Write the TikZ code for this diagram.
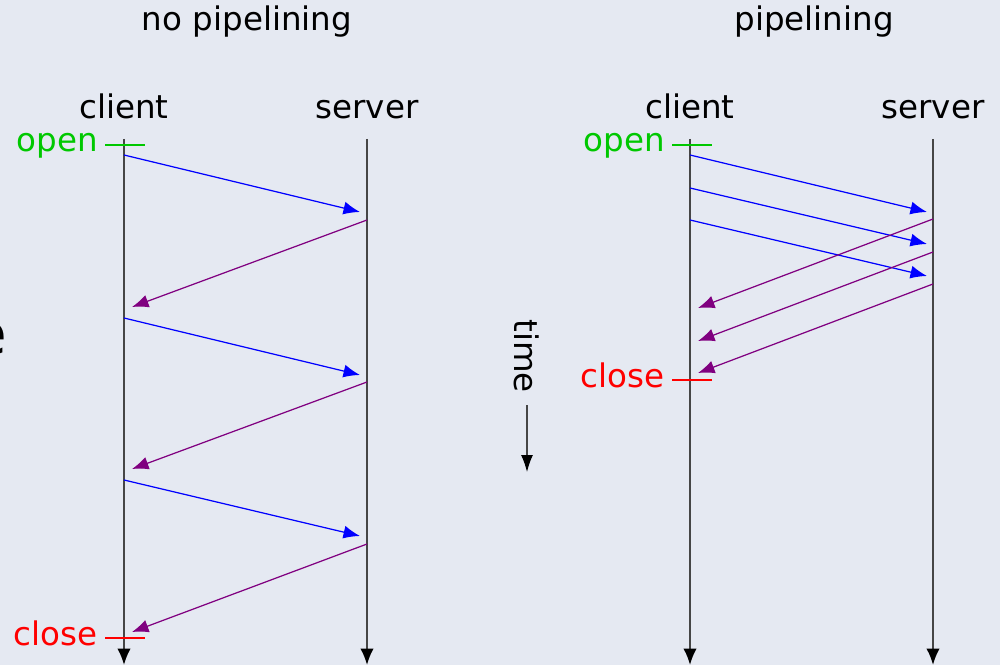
\documentclass[tikz,border=0pt]{standalone}
\usepackage{fontspec}
\setmainfont{DejaVu Sans}
\usetikzlibrary{arrows.meta}
\definecolor{bgcol}{RGB}{229,233,242}
\definecolor{opengreen}{RGB}{0,200,0}
\definecolor{msgpurple}{RGB}{128,0,128}
\definecolor{linegray}{RGB}{70,70,70}
\tikzset{
	txt/.style={inner sep=0pt,font=\fontsize{18.5}{21}\selectfont},
	lifeline/.style={draw=linegray,line width=1.1pt,-{Latex[length=3.3mm,width=2.7mm,black]}},
	tick/.style={line width=1.2pt},
	request/.style={blue,line width=0.7pt,-{Latex[length=3.3mm,width=2.6mm]}},
	reply/.style={msgpurple,line width=0.7pt,-{Latex[length=3.3mm,width=2.6mm]}},
}
\begin{document}
\begin{tikzpicture}[x=0.02cm,y=-0.02cm]
	\fill[bgcol] (0,0) rectangle (1000,665);
	\useasboundingbox (0,0) rectangle (1000,665);
	% cut off letter at the left edge
	\node[inner sep=0pt,font=\fontsize{33}{36}\selectfont] (cut) at (-11,339) {e};
	%
	% no pipelining
	\node[txt,anchor=base] (titleA) at (247,31) {no pipelining};
	\node[txt,anchor=base] (clientA) at (124,119) {client};
	\node[txt,anchor=base] (serverA) at (367,119) {server};
	\coordinate (cA) at (124,139);
	\coordinate (cAend) at (124,665);
	\coordinate (sA) at (367,139);
	\coordinate (sAend) at (367,665);
	\draw[lifeline] (cA) -- (cAend);
	\draw[lifeline] (sA) -- (sAend);
	\coordinate (openA1) at (105,145);
	\coordinate (openA2) at (145,145);
	\draw[tick,opengreen] (openA1) -- (openA2);
	\node[txt,anchor=base east,text=opengreen] (openA) at (98,152) {open};
	\coordinate (closeA1) at (105,638);
	\coordinate (closeA2) at (145,638);
	\draw[tick,red] (closeA1) -- (closeA2);
	\node[txt,anchor=base east,text=red] (closeA) at (98,645) {close};
	\coordinate (a1) at (124,155);
	\coordinate (a2) at (360,212);
	\coordinate (a3) at (367,220);
	\coordinate (a4) at (132,307);
	\coordinate (a5) at (124,318);
	\coordinate (a6) at (360,375);
	\coordinate (a7) at (367,382);
	\coordinate (a8) at (132,469);
	\coordinate (a9) at (124,480);
	\coordinate (a10) at (360,536);
	\coordinate (a11) at (367,544);
	\coordinate (a12) at (132,632);
	\draw[request] (a1) -- (a2);
	\draw[reply] (a3) -- (a4);
	\draw[request] (a5) -- (a6);
	\draw[reply] (a7) -- (a8);
	\draw[request] (a9) -- (a10);
	\draw[reply] (a11) -- (a12);
	%
	% time axis
	\node[txt,rotate=-90] (time) at (527,356) {time};
	\coordinate (t1) at (527,405);
	\coordinate (t2) at (527,472);
	\draw[linegray,line width=0.7pt,-{Latex[length=3.4mm,width=2.4mm,black]}] (t1) -- (t2);
	%
	% pipelining
	\node[txt,anchor=base] (titleB) at (814,31) {pipelining};
	\node[txt,anchor=base] (clientB) at (690,119) {client};
	\node[txt,anchor=base] (serverB) at (933,119) {server};
	\coordinate (cB) at (690,139);
	\coordinate (cBend) at (690,665);
	\coordinate (sB) at (933,139);
	\coordinate (sBend) at (933,665);
	\draw[lifeline] (cB) -- (cBend);
	\draw[lifeline] (sB) -- (sBend);
	\coordinate (openB1) at (672,145);
	\coordinate (openB2) at (712,145);
	\draw[tick,opengreen] (openB1) -- (openB2);
	\node[txt,anchor=base east,text=opengreen] (openB) at (665,152) {open};
	\coordinate (closeB1) at (672,380);
	\coordinate (closeB2) at (712,380);
	\draw[tick,red] (closeB1) -- (closeB2);
	\node[txt,anchor=base east,text=red] (closeB) at (665,387) {close};
	\coordinate (b1) at (690,155);
	\coordinate (b2) at (927,212);
	\coordinate (b3) at (690,188);
	\coordinate (b4) at (927,244);
	\coordinate (b5) at (690,220);
	\coordinate (b6) at (927,276);
	\draw[request] (b1) -- (b2);
	\draw[request] (b3) -- (b4);
	\draw[request] (b5) -- (b6);
	\coordinate (b7) at (933,219);
	\coordinate (b8) at (698,308);
	\coordinate (b9) at (933,252);
	\coordinate (b10) at (698,341);
	\coordinate (b11) at (933,284);
	\coordinate (b12) at (698,373);
	\draw[reply] (b7) -- (b8);
	\draw[reply] (b9) -- (b10);
	\draw[reply] (b11) -- (b12);
\end{tikzpicture}
\end{document}
